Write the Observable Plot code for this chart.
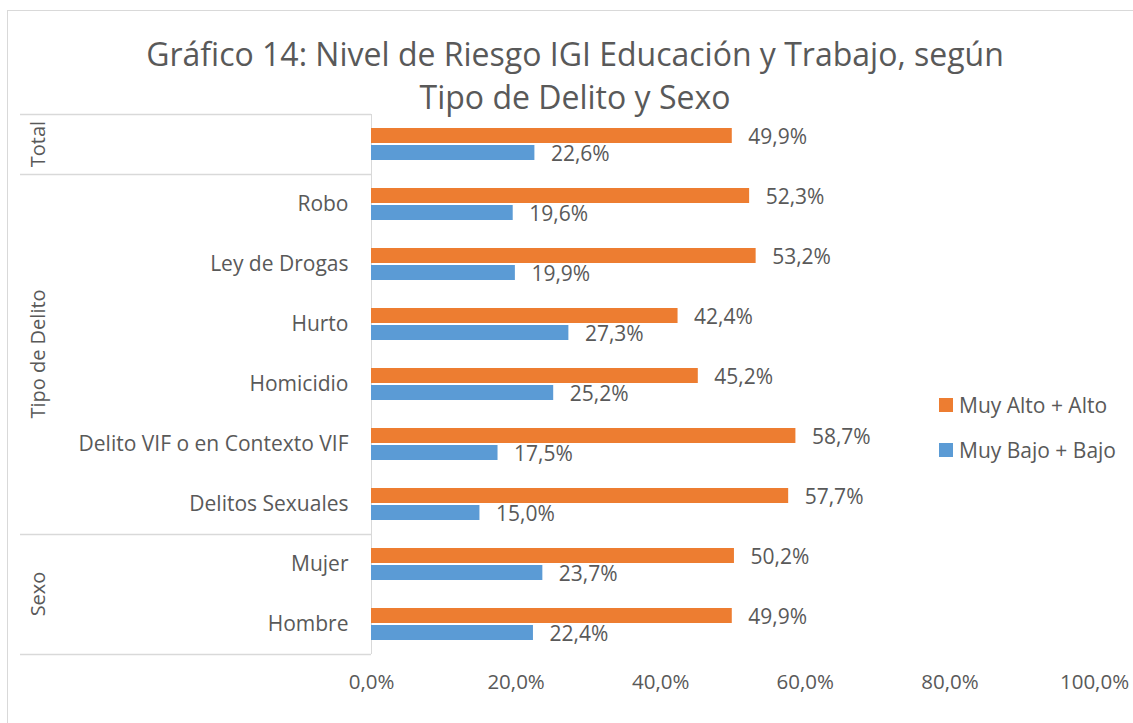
<!DOCTYPE html>
<html>
<head>
<meta charset="utf-8">
<script src="https://cdn.jsdelivr.net/npm/d3@7"></script>
<script src="https://cdn.jsdelivr.net/npm/@observablehq/plot@0.6"></script>
<style>
  body { margin: 0; background: #fff; font-family: "Open Sans", sans-serif; }
  #wrap { position: relative; width: 1133px; height: 723px; overflow: hidden; background: #fff; }
  #frame { position: absolute; left: 7px; top: 10px; width: 1200px; height: 800px; border: 1px solid #d9d9d9; box-sizing: border-box; }
  #title { position: absolute; left: 0; top: 32px; width: 1150px; text-align: center; color: #595959; font-size: 32px; line-height: 43px; white-space: nowrap; }
  #chart { position: absolute; left: 0; top: 104px; }
  #legend { position: absolute; left: 939px; top: 391px; color: #595959; font-size: 21px; }
  .li { display: flex; align-items: center; height: 27px; margin-bottom: 18px; white-space: nowrap; }
  .sw { width: 14px; height: 14px; margin-right: 6px; }
</style>
</head>
<body>
<div id="wrap">
  <div id="frame"></div>
  <div id="title">Gráfico 14: Nivel de Riesgo IGI Educación y Trabajo, según<br>Tipo de Delito y Sexo</div>
  <div id="chart"></div>
  <div id="legend"></div>
</div>
<script>
// ---- data ----
const categories = ["Total", "Robo", "Ley de Drogas", "Hurto", "Homicidio", "Delito VIF o en Contexto VIF", "Delitos Sexuales", "Mujer", "Hombre"];
const groupOf = ["Total", "Tipo de Delito", "Tipo de Delito", "Tipo de Delito", "Tipo de Delito", "Tipo de Delito", "Tipo de Delito", "Sexo", "Sexo"];
const groupNames = ["Total", "Tipo de Delito", "Sexo"];
const seriesNames = ["Muy Alto + Alto", "Muy Bajo + Bajo"];
const altoValues = [49.9, 52.3, 53.2, 42.4, 45.2, 58.7, 57.7, 50.2, 49.9];
const bajoValues = [22.6, 19.6, 19.9, 27.3, 25.2, 17.5, 15.0, 23.7, 22.4];
const xTicks = [0, 20, 40, 60, 80, 100];
const colors = ["#ED7D31", "#5B9BD5"];

const rows = categories.map((c, i) => ({cat: c, group: groupOf[i], alto: altoValues[i], bajo: bajoValues[i]}));
const pct = v => v.toFixed(1).replace(".", ",") + "%";
const textColor = "#595959";
const lineColor = "#d9d9d9";

const plot = Plot.plot({
  width: 1133,
  height: 619,
  marginTop: 10,
  marginBottom: 69,
  marginLeft: 371,
  marginRight: 39,
  style: {fontFamily: "'Open Sans', sans-serif", color: textColor, background: "transparent"},
  x: {domain: [0, 100], axis: null},
  y: {domain: categories, paddingInner: 0, paddingOuter: 0, axis: null},
  marks: [
    Plot.ruleX([0], {stroke: lineColor, strokeWidth: 1}),
    Plot.barX(rows, {x: "alto", y: "cat", fill: colors[0], insetTop: 14, insetBottom: 31}),
    Plot.barX(rows, {x: "bajo", y: "cat", fill: colors[1], insetTop: 31, insetBottom: 14}),
    Plot.text(rows, {x: "alto", y: "cat", text: d => pct(d.alto), dx: 16, dy: -7, textAnchor: "start", fontSize: 21, fill: textColor}),
    Plot.text(rows, {x: "bajo", y: "cat", text: d => pct(d.bajo), dx: 16, dy: 10, textAnchor: "start", fontSize: 21, fill: textColor}),
    Plot.axisY({tickSize: 0, tickPadding: 23, fontSize: 21, label: null, tickFormat: d => d === "Total" ? "" : d, fill: textColor}),
    Plot.axisX({ticks: xTicks, tickSize: 0, tickPadding: 20, fontSize: 20.5, label: null, tickFormat: v => pct(v), fill: textColor})
  ]
});
document.getElementById("chart").appendChild(plot);

// group separators and rotated group labels, positioned from the plot's own y scale
const ys = plot.scale("y");
const bw = ys.bandwidth;
const svg = d3.select(plot);
const x0 = plot.scale("x").apply(0);
const bounds = [];
groupNames.forEach(g => {
  const cats = rows.filter(r => r.group === g).map(r => r.cat);
  const top = ys.apply(cats[0]);
  const bot = ys.apply(cats[cats.length - 1]) + bw;
  bounds.push(top, bot);
  svg.append("text")
    .attr("transform", `translate(37,${(top + bot) / 2}) rotate(-90)`)
    .attr("text-anchor", "middle")
    .attr("dominant-baseline", "central")
    .attr("font-size", 20)
    .attr("fill", textColor)
    .text(g);
});
[...new Set(bounds.map(b => Math.round(b)))].forEach(b => {
  svg.append("line")
    .attr("x1", 20).attr("x2", x0)
    .attr("y1", b + 0.5).attr("y2", b + 0.5)
    .attr("stroke", lineColor).attr("stroke-width", 1.5);
});

// legend
const legend = d3.select("#legend");
seriesNames.forEach((s, i) => {
  const item = legend.append("div").attr("class", "li");
  item.append("div").attr("class", "sw").style("background", colors[i]);
  item.append("span").text(s);
});
</script>
</body>
</html>
